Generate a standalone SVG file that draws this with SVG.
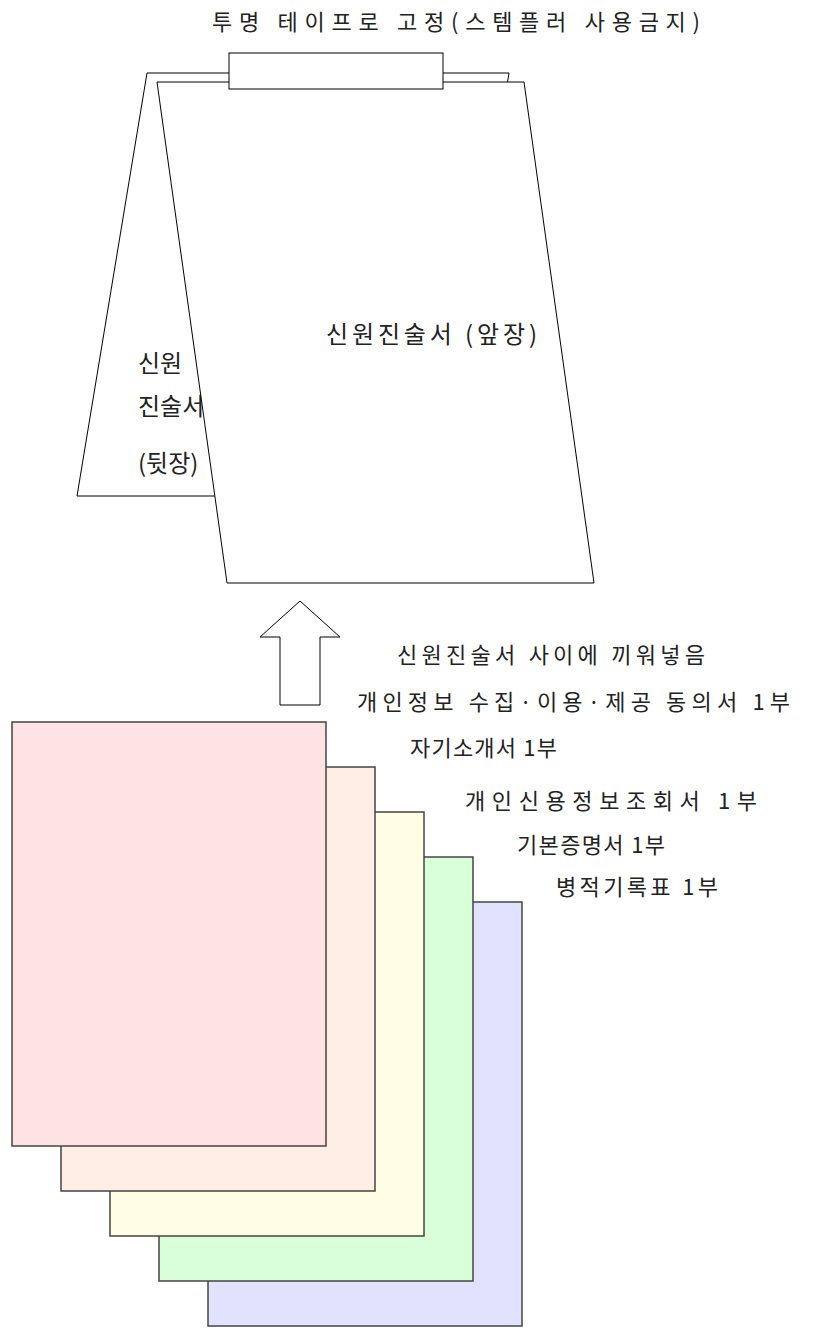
<svg xmlns="http://www.w3.org/2000/svg" width="817" height="1329" viewBox="0 0 817 1329">
<style>
.t{font-family:"Noto Sans CJK KR","Noto Sans",sans-serif;fill:#222;}
.sheet{fill:#fff;stroke:#000;stroke-width:1;}
.doc{stroke:#444;stroke-width:1.5;}
</style>
<rect width="817" height="1329" fill="#fff"/>
<text class="t" x="212" y="30" font-size="22" textLength="488" lengthAdjust="spacing">투명 테이프로 고정(스템플러 사용금지)</text>
<g id="back-sheet">
<polygon class="sheet" points="147,73 509,73 439,496 77,496"/>
<text class="t" x="138" y="372" font-size="24">신원</text>
<text class="t" x="138" y="415" font-size="24">진술서</text>
<text class="t" x="138" y="472" font-size="24">(뒷장)</text>
</g>
<g id="front-sheet">
<polygon class="sheet" points="157,82 524,82 594,583 227,583"/>
<text class="t" x="326" y="343" font-size="24" textLength="211" lengthAdjust="spacing">신원진술서 (앞장)</text>
</g>
<g id="tape">
<rect class="sheet" x="229" y="53" width="214" height="36"/>
</g>
<g id="connectors">
<polygon class="sheet" points="300,601 340,637 320,637 320,705 280,705 280,637 260,637"/>
<text class="t" x="397" y="663" font-size="22" textLength="308" lengthAdjust="spacing">신원진술서 사이에 끼워넣음</text>
</g>
<g id="doc5"><rect class="doc" x="208" y="902" width="314" height="424" fill="#E2E2FE"/><text class="t" x="556" y="895" font-size="22" textLength="162" lengthAdjust="spacing">병적기록표 1부</text></g>
<g id="doc4"><rect class="doc" x="159" y="857" width="314" height="424" fill="#D9FFD8"/><text class="t" x="517" y="853" font-size="22" textLength="148" lengthAdjust="spacing">기본증명서 1부</text></g>
<g id="doc3"><rect class="doc" x="110" y="812" width="314" height="424" fill="#FFFEE4"/><text class="t" x="465" y="809" font-size="22" textLength="292" lengthAdjust="spacing">개인신용정보조회서 1부</text></g>
<g id="doc2"><rect class="doc" x="61" y="767" width="314" height="424" fill="#FFEEE3"/><text class="t" x="410" y="756" font-size="22" textLength="147" lengthAdjust="spacing">자기소개서 1부</text></g>
<g id="doc1"><rect class="doc" x="12" y="722" width="314" height="424" fill="#FFE2E4"/><text class="t" x="357" y="710" font-size="22" textLength="433" lengthAdjust="spacing">개인정보 수집·이용·제공 동의서 1부</text></g>
</svg>
